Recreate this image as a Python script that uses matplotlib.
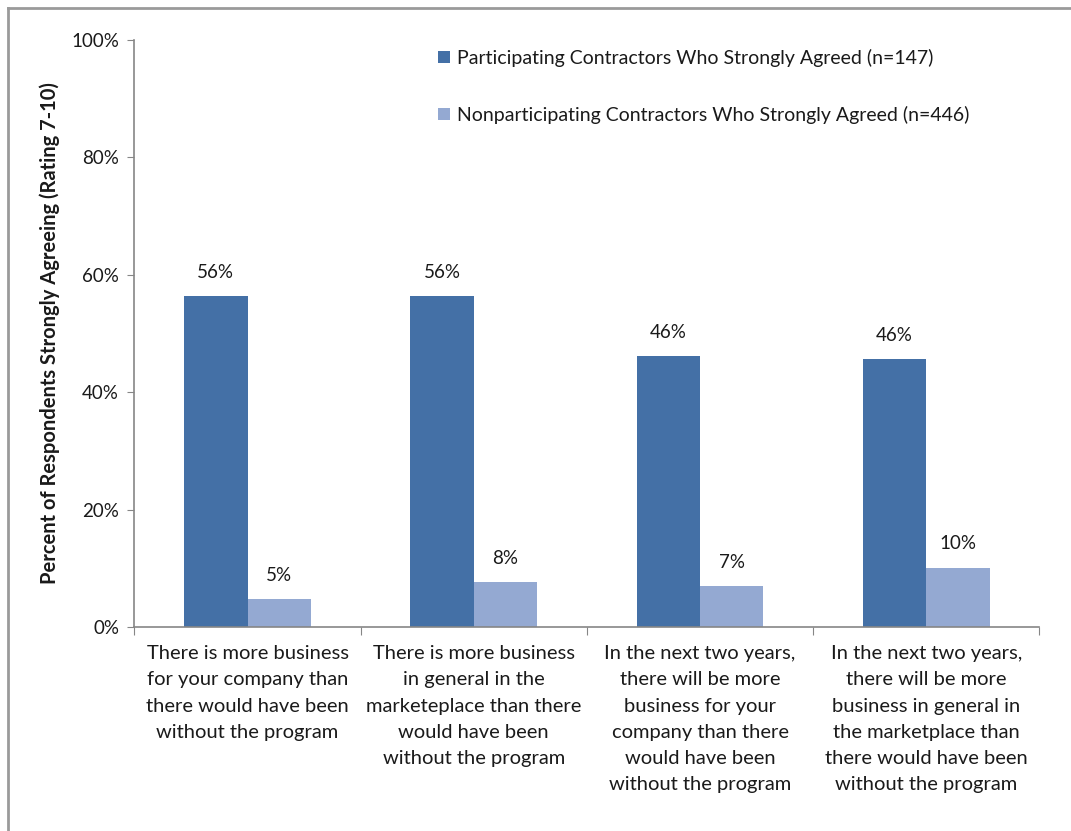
import numpy as np
import matplotlib
matplotlib.use('Agg')
import matplotlib.pyplot as plt
from matplotlib.lines import Line2D
from matplotlib.ticker import FixedLocator

plt.rcParams['font.family'] = ['Lato', 'DejaVu Sans']

# data
categories = [
    'There is more business\nfor your company than\nthere would have been\nwithout the program',
    'There is more business\nin general in the\nmarketeplace than there\nwould have been\nwithout the program',
    'In the next two years,\nthere will be more\nbusiness for your\ncompany than there\nwould have been\nwithout the program',
    'In the next two years,\nthere will be more\nbusiness in general in\nthe marketplace than\nthere would have been\nwithout the program',
]
participating = [56.4, 56.4, 46.1, 45.6]
nonparticipating = [4.8, 7.6, 7.0, 10.1]
series_names = ['Participating Contractors Who Strongly Agreed (n=147)',
                'Nonparticipating Contractors Who Strongly Agreed (n=446)']
y_ticks = [0, 20, 40, 60, 80, 100]

DARK = '#4470A6'
LIGHT = '#94A9D2'
AXIS_GRAY = '#868686'
TXT = '#1a1a1a'

fig = plt.figure(figsize=(10.71, 8.31), dpi=100)
ax = fig.add_axes([0.1255, 0.2455, 0.845, 0.7065])

x = np.arange(len(categories))
w = 0.28
b1 = ax.bar(x - w / 2, participating, w, color=DARK, label=series_names[0])
b2 = ax.bar(x + w / 2, nonparticipating, w, color=LIGHT, label=series_names[1])

for bars in (b1, b2):
    for r in bars:
        ax.annotate('%d%%' % round(r.get_height()),
                    (r.get_x() + r.get_width() / 2, r.get_height()),
                    xytext=(0, 11), textcoords='offset points',
                    ha='center', va='bottom', fontsize=13.5, color=TXT)

ax.set_xlim(-0.5, len(categories) - 0.5)
ax.set_ylim(0, 100)
ax.set_yticks(y_ticks)
ax.set_yticklabels(['%d%%' % v for v in y_ticks], fontsize=13.5, color=TXT)

ax.xaxis.set_major_locator(FixedLocator(np.arange(-0.5, len(categories), 1.0)))
ax.set_xticklabels([])
ax.xaxis.set_minor_locator(FixedLocator(x))
ax.set_xticklabels(categories, minor=True, fontsize=14.5, color=TXT,
                   linespacing=1.66, va='top', ha='center')
ax.tick_params(axis='x', which='minor', length=0, pad=13)
ax.tick_params(axis='x', which='major', length=6, color=AXIS_GRAY, direction='out')
ax.tick_params(axis='y', length=5, color=AXIS_GRAY, direction='out', pad=6)

for s in ['top', 'right']:
    ax.spines[s].set_visible(False)
for s in ['left', 'bottom']:
    ax.spines[s].set_color(AXIS_GRAY)
    ax.spines[s].set_linewidth(1.2)

ax.set_ylabel('Percent of Respondents Strongly Agreeing (Rating 7-10)',
              fontsize=14.5, fontweight='bold', color=TXT, labelpad=8)

ax.legend(loc='upper left', bbox_to_anchor=(0.316, 1.015), frameon=False,
          fontsize=14, labelspacing=2.0, handlelength=0.6, handleheight=0.6,
          handletextpad=0.4, labelcolor=TXT)

# frame remnants of the screenshot
fig.add_artist(Line2D([8 / 1071, 8 / 1071], [0, 1 - 8 / 831], color='#9a9a9a', lw=2))
fig.add_artist(Line2D([8 / 1071, 1], [1 - 8 / 831, 1 - 8 / 831], color='#9a9a9a', lw=2))

fig.savefig('out.png', dpi=100)
